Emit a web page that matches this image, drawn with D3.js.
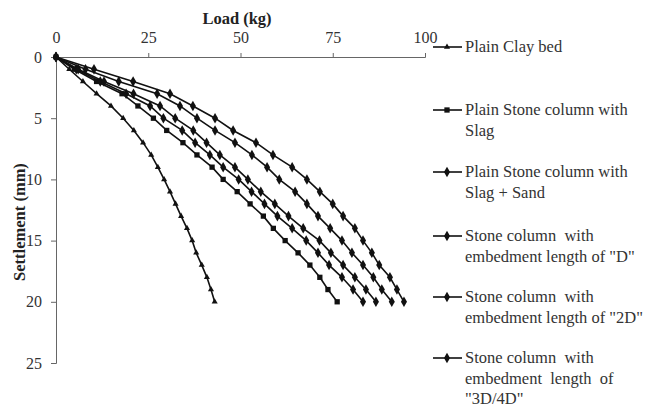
<!DOCTYPE html>
<html>
<head>
<meta charset="utf-8">
<script src="https://cdn.jsdelivr.net/npm/d3@7"></script>
<style>
  body { margin: 0; background: #fff; }
</style>
</head>
<body>
<div id="chart"></div>
<script>
// settlement steps (mm)
var settlement = d3.range(0, 21)

// load (kg) at each settlement step
var clayBed = [0, 3.6, 7.3, 11.0, 14.9, 18.2, 21.1, 23.6, 25.8, 27.6, 29.3, 30.9, 32.4, 33.9, 35.5, 36.9, 38.0, 39.5, 40.9, 42.0, 43.0]
var slag = [0, 5, 11, 17.9, 22.2, 26.4, 30, 34.4, 38.2, 42.3, 45.3, 49.1, 52.6, 56.2, 58.9, 62.1, 65.6, 68.8, 71.5, 73.7, 76.2]
var slagSand = [0, 5.5, 12, 19, 25.5, 29.1, 34.2, 37.7, 41.7, 45.3, 49.5, 53, 56.5, 60, 64, 67.8, 71, 74, 77.5, 80.5, 83.2]
var embedD = [0, 6, 13, 21, 28.2, 32.3, 37.2, 40.8, 44.4, 48.5, 52, 55.5, 59.3, 63, 67, 71.4, 74.5, 77.8, 81, 84, 86.7]
var embed2D = [0, 8, 17, 27.4, 33.6, 38.2, 43.1, 48.5, 53.1, 57.2, 60.5, 64.8, 68, 71, 74.3, 77.5, 80.2, 83.2, 86, 88.3, 91]
var embed3D4D = [0, 10.3, 20.9, 30.9, 37.1, 43.1, 48, 54.2, 58.8, 64, 68, 71.5, 75, 77.8, 81, 83.2, 85.6, 87.6, 90.5, 92.4, 94.3]

var xTicks = [0, 25, 50, 75, 100]
var yTicks = [0, 5, 10, 15, 20, 25]

var seriesNames = [
  ["Plain Clay bed"],
  ["Plain Stone column with", "Slag"],
  ["Plain Stone column with", "Slag + Sand"],
  ["Stone column  with", "embedment length of \"D\""],
  ["Stone column  with", "embedment length of \"2D\""],
  ["Stone column  with", "embedment  length  of", "\"3D/4D\""]
]
var seriesValues = [clayBed, slag, slagSand, embedD, embed2D, embed3D4D]

// marker per series
var shapes = [d3.symbolTriangle, d3.symbolSquare, d3.symbolDiamond, d3.symbolDiamond, d3.symbolDiamond, d3.symbolDiamond]
var sizes = [16, 28, 32, 32, 32, 32]

var font = "'Liberation Serif', 'Times New Roman', serif"

var width = 647
    height = 410

var svg = d3.select("#chart")
  .append("svg")
    .attr("width", width)
    .attr("height", height)
    .style("font-family", font)

// scales
var x = d3.scaleLinear().domain([0, 100]).range([56, 425])
var y = d3.scaleLinear().domain([0, 25]).range([57, 363])

function styleAxis(g) {
  g.attr("font-family", null)
  g.select(".domain").attr("stroke", "#666")
  g.selectAll(".tick line").attr("stroke", "#666")
  g.selectAll("text").attr("font-size", 16).attr("fill", "#333").style("font-family", font)
}

// top x axis
svg.append("g")
    .attr("transform", "translate(0," + y(0) + ")")
    .call(d3.axisTop(x).tickValues(xTicks).tickSize(4).tickPadding(10))
    .call(styleAxis)

// left y axis
svg.append("g")
    .attr("transform", "translate(" + x(0) + ",0)")
    .call(d3.axisLeft(y).tickValues(yTicks).tickSize(5).tickPadding(9))
    .call(styleAxis)

// axis titles
svg.append("text")
    .attr("x", 237)
    .attr("y", 24)
    .attr("text-anchor", "middle")
    .attr("font-size", 16.5)
    .attr("font-weight", "bold")
    .attr("fill", "#222")
    .text("Load (kg)")

svg.append("text")
    .attr("transform", "translate(25,222) rotate(-90)")
    .attr("text-anchor", "middle")
    .attr("font-size", 16.5)
    .attr("font-weight", "bold")
    .attr("fill", "#222")
    .text("Settlement (mm)")

var line = d3.line()
  .x(function(d) { return x(d.load) })
  .y(function(d) { return y(d.s) })

seriesValues.forEach(function(vals, i) {
  var pts = vals.map(function(v, j) { return {load: v, s: settlement[j]} })
  svg.append("path")
      .datum(pts)
      .attr("d", line)
      .attr("fill", "none")
      .attr("stroke", "#111")
      .attr("stroke-width", 1.6)
  svg.selectAll(".pt" + i)
    .data(pts)
    .enter()
    .append("path")
      .attr("d", d3.symbol().type(shapes[i]).size(sizes[i]))
      .attr("transform", function(d) { return "translate(" + x(d.load) + "," + y(d.s) + ")" })
      .attr("fill", "#111")
})

// legend
var legendY = [47, 110, 172, 236, 297, 358]
seriesNames.forEach(function(lines, i) {
  var g = svg.append("g").attr("transform", "translate(0," + legendY[i] + ")")
  g.append("line")
      .attr("x1", 433).attr("x2", 462)
      .attr("stroke", "#111")
      .attr("stroke-width", 1.6)
  g.append("path")
      .attr("d", d3.symbol().type(shapes[i]).size(sizes[i]))
      .attr("transform", "translate(447,0)")
      .attr("fill", "#111")
  g.selectAll("text")
    .data(lines)
    .enter()
    .append("text")
      .attr("x", 465)
      .attr("y", function(d, k) { return k * 20.5 + 5 })
      .attr("font-size", 16.5)
      .attr("fill", "#333")
      .style("white-space", "pre")
      .text(function(d) { return d })
})
</script>
</body>
</html>
